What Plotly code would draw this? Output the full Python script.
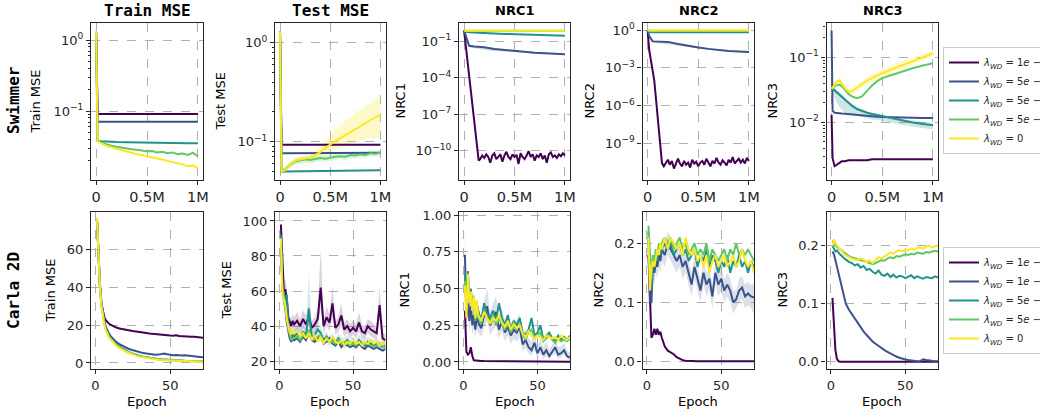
import plotly.graph_objects as go

W, H = 1040, 412
VIRIDIS = ["#440154", "#3b528b", "#21918c", "#5ec962", "#fde725"]
VIRIDIS_RGB = [(68, 1, 84), (59, 82, 139), (33, 145, 140), (94, 201, 98), (253, 231, 37)]
LAMBDA_SWIMMER = ["1e − 2", "5e − 3", "5e − 4", "5e − 5", "0"]
LAMBDA_CARLA = ["1e − 1", "1e − 2", "5e − 3", "5e − 4", "0"]
COL_TITLES = ["Train MSE", "Test MSE", "NRC1", "NRC2", "NRC3"]
ROW_TITLES = ["Swimmer", "Carla 2D"]

# ---------------- Swimmer (x in millions of steps) ----------------
XS = [0, 0.015, 0.05, 0.1, 0.2, 0.3, 0.4, 0.5, 0.6, 0.7, 0.8, 0.9, 1.0]
XR = [0, 0.015, 0.05, 0.1, 0.15, 0.2, 0.25, 0.3, 0.35, 0.4, 0.45, 0.5, 0.55, 0.6,
      0.65, 0.7, 0.75, 0.8, 0.85, 0.9, 0.95, 1.0]
XP = [0.16, 0.18, 0.20, 0.22, 0.24, 0.26, 0.28, 0.30, 0.32, 0.34, 0.36, 0.38, 0.40,
      0.42, 0.44, 0.46, 0.48, 0.50, 0.52, 0.54, 0.56, 0.58, 0.60, 0.62, 0.64, 0.66,
      0.68, 0.70, 0.72, 0.74, 0.76, 0.78, 0.80, 0.82, 0.84, 0.86, 0.88, 0.90, 0.92,
      0.94, 0.96, 0.98, 1.00]
X3 = [0, 0.01, 0.03, 0.05, 0.08, 0.1, 0.13, 0.17, 0.2, 0.25, 0.3, 0.35, 0.4, 0.45,
      0.5, 0.6, 0.7, 0.8, 0.9, 1.0]

# Train MSE
SW_TRAIN_1 = [1.3, 0.091, 0.091, 0.091, 0.091, 0.091, 0.091, 0.091, 0.091, 0.091, 0.091, 0.091, 0.091]
SW_TRAIN_2 = [1.3, 0.071, 0.071, 0.071, 0.071, 0.071, 0.071, 0.071, 0.071, 0.071, 0.071, 0.071, 0.071]
SW_TRAIN_3 = [1.3, 0.038, 0.0375, 0.037, 0.0366, 0.0363, 0.036, 0.0358, 0.0357, 0.0356, 0.0355, 0.0354, 0.0353]
SW_TRAIN_4 = [1.3, 0.038, 0.036, 0.034, 0.0325, 0.0315, 0.0305, 0.0298, 0.029, 0.0285, 0.0278,
              0.0272, 0.0275, 0.0262, 0.0268, 0.0255, 0.0262, 0.0248, 0.0252, 0.0242, 0.0258, 0.0233]
SW_TRAIN_5 = [1.35, 0.038, 0.035, 0.0325, 0.031, 0.0295, 0.028, 0.0268, 0.0257, 0.0247, 0.024,
              0.0232, 0.0225, 0.0215, 0.0208, 0.0198, 0.0192, 0.0183, 0.0178, 0.0168, 0.0172, 0.0155]

# Test MSE
SW_TEST_1 = [1.3, 0.0925, 0.0925, 0.0925, 0.0925, 0.0925, 0.0925, 0.0925, 0.0925, 0.0925, 0.0925, 0.0925, 0.0925]
SW_TEST_2 = [1.3, 0.076, 0.076, 0.076, 0.076, 0.076, 0.0765, 0.0765, 0.077, 0.077, 0.077, 0.077, 0.077]
SW_TEST_3 = [1.3, 0.0496, 0.0496, 0.0497, 0.0498, 0.05, 0.0502, 0.0503, 0.0505, 0.0506, 0.0508, 0.0509, 0.051]
SW_TEST_4 = [1.3, 0.05, 0.052, 0.058, 0.0627, 0.064, 0.066, 0.065, 0.067, 0.068, 0.067, 0.069,
             0.07, 0.071, 0.07, 0.073, 0.072, 0.074, 0.073, 0.076, 0.075, 0.077]
SW_TEST_5 = [1.3, 0.05, 0.051, 0.058, 0.064, 0.066, 0.067, 0.069, 0.073, 0.078, 0.086, 0.094,
             0.101, 0.108, 0.116, 0.124, 0.133, 0.143, 0.153, 0.164, 0.176, 0.187]
SW_TEST_5_LO = [1.2, 0.048, 0.049, 0.055, 0.06, 0.062, 0.062, 0.063, 0.066, 0.069, 0.074, 0.079,
                0.083, 0.087, 0.091, 0.095, 0.099, 0.103, 0.106, 0.108, 0.108, 0.108]
SW_TEST_5_HI = [1.4, 0.052, 0.054, 0.062, 0.069, 0.071, 0.073, 0.076, 0.082, 0.09, 0.101, 0.117,
                0.135, 0.142, 0.165, 0.17, 0.2, 0.205, 0.235, 0.24, 0.27, 0.29]
SW_TEST_4_LO = [1.2, 0.048, 0.049, 0.054, 0.058, 0.059, 0.061, 0.06, 0.062, 0.063, 0.062, 0.064,
                0.065, 0.066, 0.065, 0.068, 0.067, 0.069, 0.068, 0.071, 0.07, 0.072]
SW_TEST_4_HI = [1.4, 0.052, 0.055, 0.062, 0.067, 0.069, 0.071, 0.07, 0.072, 0.073, 0.072, 0.074,
                0.075, 0.076, 0.075, 0.078, 0.077, 0.079, 0.078, 0.081, 0.08, 0.082]

# NRC1
SW_NRC1_1 = [0.8, 0.03, 2e-4, 4e-8, 1.5e-11,
             2e-11, 4e-11, 2.5e-11, 5e-11, 3e-11, 1e-11, 4e-11, 6e-11, 2e-11, 3.5e-11,
             5e-11, 1.2e-11, 4e-11, 8e-11, 3e-11, 2e-11, 5e-11, 3e-11, 4.5e-11, 8e-12,
             6e-11, 3e-11, 2e-11, 4e-11, 9e-11, 3e-11, 5e-11, 1.5e-11, 4e-11, 3e-11,
             6e-11, 2e-11, 4e-11, 1e-11, 5e-11, 7e-11, 3e-11, 4e-11, 2.5e-11, 5e-11,
             3.5e-11, 6e-11, 4e-11]
SW_NRC1_1_X = [0, 0.02, 0.05, 0.1, 0.145] + XP
SW_NRC1_2 = [0.8, 0.3, 0.043, 0.038, 0.032, 0.023, 0.019, 0.017, 0.014, 0.0115, 0.0105, 0.0095, 0.0085]
SW_NRC1_2_LO = [0.7, 0.2, 0.032, 0.026, 0.019, 0.016, 0.0145, 0.0135, 0.012, 0.0102, 0.0095, 0.0088, 0.008]
SW_NRC1_2_HI = [0.9, 0.38, 0.05, 0.045, 0.038, 0.028, 0.022, 0.0195, 0.016, 0.0125, 0.0113, 0.0102, 0.0091]
SW_NRC1_3 = [0.8, 0.62, 0.56, 0.52, 0.47, 0.44, 0.41, 0.38, 0.36, 0.34, 0.32, 0.305, 0.29]
SW_NRC1_4 = [0.8, 0.73, 0.73, 0.73, 0.73, 0.73, 0.735, 0.735, 0.74, 0.74, 0.74, 0.74, 0.74]
SW_NRC1_5 = [0.8, 0.74, 0.74, 0.74, 0.74, 0.74, 0.745, 0.745, 0.75, 0.75, 0.75, 0.75, 0.75]

# NRC2
SW_NRC2_1 = [1.0, 0.026, 1e-4, 1.3e-7, 2.7e-11,
             1.5e-11, 3e-11, 5e-11, 2e-11, 4e-11, 1e-11, 3e-11, 6e-11, 2.5e-11, 1.5e-11,
             4e-11, 2e-11, 3e-11, 1.2e-11, 5e-11, 2.5e-11, 3.5e-11, 1.5e-11, 3e-11, 4e-11,
             2e-11, 6e-11, 3e-11, 1.5e-11, 4e-11, 2.5e-11, 7e-11, 3e-11, 2e-11, 4.5e-11,
             3e-11, 1.8e-11, 5e-11, 3e-11, 8e-11, 2.5e-11, 4e-11, 6e-11, 3e-11, 5e-11,
             2.5e-11, 7e-11, 4e-11]
SW_NRC2_1_X = [0, 0.016, 0.066, 0.1, 0.142] + XP
SW_NRC2_2 = [1.0, 0.35, 0.126, 0.124, 0.115, 0.078, 0.055, 0.041, 0.032, 0.026, 0.022, 0.02, 0.018]
SW_NRC2_2_LO = [0.9, 0.25, 0.1, 0.09, 0.08, 0.06, 0.045, 0.035, 0.028, 0.023, 0.02, 0.018, 0.016]
SW_NRC2_2_HI = [1.1, 0.45, 0.15, 0.14, 0.13, 0.09, 0.064, 0.047, 0.036, 0.029, 0.024, 0.022, 0.02]
SW_NRC2_3 = [1.0, 0.7, 0.68, 0.67, 0.66, 0.66, 0.66, 0.66, 0.66, 0.66, 0.66, 0.66, 0.66]
SW_NRC2_4 = [1.0, 0.9, 0.9, 0.9, 0.9, 0.9, 0.9, 0.9, 0.9, 0.9, 0.9, 0.9, 0.9]
SW_NRC2_5 = [1.0, 0.92, 0.92, 0.92, 0.92, 0.92, 0.92, 0.92, 0.92, 0.92, 0.92, 0.92, 0.92]

# NRC3
SW_NRC3_1 = [0.013, 0.0028, 0.0021, 0.0022, 0.0024, 0.0025, 0.0025, 0.0026, 0.0026, 0.0026,
             0.0026, 0.0026, 0.0027, 0.0027, 0.0027, 0.0027, 0.0027, 0.0027, 0.0027, 0.0027]
SW_NRC3_2 = [0.26, 0.015, 0.014, 0.0138, 0.0137, 0.0136, 0.0135, 0.0133, 0.0132, 0.013,
             0.0128, 0.0126, 0.0124, 0.0122, 0.0121, 0.0119, 0.0118, 0.0117, 0.0116, 0.0116]
SW_NRC3_3 = [0.033, 0.033, 0.031, 0.029, 0.026, 0.0245, 0.022, 0.0195, 0.018, 0.016,
             0.0148, 0.014, 0.0134, 0.0129, 0.0124, 0.0115, 0.0106, 0.0099, 0.0094, 0.009]
SW_NRC3_3_LO = [0.03, 0.028, 0.024, 0.02, 0.017, 0.0155, 0.014, 0.0135, 0.013, 0.0125,
                0.012, 0.0115, 0.011, 0.0108, 0.0105, 0.0098, 0.0091, 0.0085, 0.0081, 0.0078]
SW_NRC3_3_HI = [0.036, 0.036, 0.034, 0.032, 0.029, 0.027, 0.024, 0.021, 0.0195, 0.0172,
                0.0158, 0.0148, 0.0141, 0.0135, 0.013, 0.012, 0.0112, 0.0106, 0.0101, 0.0097]
SW_NRC3_4 = [0.033, 0.034, 0.036, 0.037, 0.038, 0.036, 0.032, 0.027, 0.025, 0.0235,
             0.025, 0.031, 0.037, 0.043, 0.048, 0.054, 0.061, 0.068, 0.075, 0.081]
SW_NRC3_5 = [0.033, 0.034, 0.038, 0.042, 0.044, 0.04, 0.034, 0.0295, 0.03, 0.034,
             0.039, 0.044, 0.048, 0.053, 0.057, 0.066, 0.076, 0.088, 0.101, 0.115]
SW_NRC3_5_LO = [0.031, 0.032, 0.035, 0.038, 0.04, 0.036, 0.031, 0.027, 0.027, 0.03,
                0.034, 0.038, 0.042, 0.046, 0.05, 0.058, 0.067, 0.078, 0.09, 0.104]
SW_NRC3_5_HI = [0.035, 0.036, 0.041, 0.046, 0.048, 0.044, 0.037, 0.032, 0.033, 0.038,
                0.044, 0.05, 0.055, 0.061, 0.066, 0.077, 0.088, 0.1, 0.113, 0.126]

# ---------------- Carla 2D (x in epochs) ----------------
EPOCHS = [1, 2, 3, 4, 5, 6, 7, 8, 9, 10,
          12, 14, 16, 18, 20, 22, 24, 26, 28, 30,
          32, 34, 36, 38, 40, 42, 44, 46, 48, 50,
          52, 54, 56, 58, 60, 62, 64, 66, 68, 70,
          72]

CA_TRAIN_1 = [76, 56, 40, 31, 26.5, 24, 22.5, 21.5, 20.8, 20.2,
              19.3, 18.7, 18.2, 17.8, 17.5, 17.2, 17.0, 16.7, 16.4, 16.2,
              16.0, 15.8, 15.6, 15.4, 15.2, 15.0, 14.9, 14.8, 14.6, 14.5,
              14.4, 14.6, 14.3, 14.1, 14.0, 13.9, 13.8, 13.8, 13.6, 13.4,
              13.3]
CA_TRAIN_2 = [76, 58, 42, 32, 26, 22, 19, 17, 15.5, 14.3,
              12.4, 11, 9.9, 9, 8.1, 7.5, 7, 6.5, 6.0, 5.5,
              5.2, 5.0, 4.7, 4.5, 4.3, 4.4, 4.8, 5.0, 4.6, 4.3,
              4.1, 4.2, 4.0, 3.9, 4.1, 4.0, 3.7, 3.5, 3.4, 3.2,
              3.0]
CA_TRAIN_3 = [76, 57, 41, 31, 25, 21, 18, 16, 14.5, 13.3,
              11.3, 9.8, 8.6, 7.6, 6.6, 5.9, 5.2, 4.6, 4.1, 3.7,
              3.3, 3.0, 2.7, 2.5, 2.3, 2.1, 1.95, 1.8, 1.7, 1.6,
              1.5, 1.4, 1.35, 1.3, 1.2, 1.15, 1.1, 1.05, 1.0, 0.95,
              0.9]
CA_TRAIN_4 = [76, 56, 40, 30.5, 24.5, 20.5, 17.5, 15.5, 14, 12.9,
              11, 9.5, 8.3, 7.3, 6.4, 5.7, 5.0, 4.4, 3.9, 3.5,
              3.1, 2.8, 2.5, 2.3, 2.1, 1.9, 1.75, 1.6, 1.5, 1.4,
              1.3, 1.2, 1.15, 1.1, 1.0, 0.95, 0.9, 0.85, 0.8, 0.75,
              0.7]
CA_TRAIN_5 = [77, 56, 39.5, 30, 24, 20, 17, 15, 13.6, 12.5,
              10.6, 9.1, 7.9, 6.9, 6.1, 5.4, 4.7, 4.1, 3.6, 3.2,
              2.9, 2.6, 2.3, 2.1, 1.9, 1.75, 1.6, 1.5, 1.4, 1.3,
              1.2, 1.1, 1.05, 1.0, 0.95, 0.9, 0.85, 0.8, 0.75, 0.7,
              0.65]

CA_TEST_1 = [98, 78, 60, 61, 55, 45, 42, 40, 43, 41,
             43, 40, 44, 41, 45, 39, 41, 44, 62, 40,
             45, 42, 53, 39, 41, 46, 38, 40, 37, 39,
             37, 42, 37, 36, 40, 38, 37, 36, 52, 33,
             32]
CA_TEST_1_LO = [95, 72, 55, 55, 50, 41, 38, 36, 39, 37,
                38, 36, 39, 37, 40, 35, 37, 39, 50, 36,
                40, 37, 45, 35, 37, 40, 34, 36, 33, 35,
                33, 37, 33, 32, 36, 34, 33, 32, 44, 30,
                29]
CA_TEST_1_HI = [101, 84, 66, 67, 60, 50, 46, 44, 47, 45,
                48, 44, 49, 46, 52, 43, 45, 50, 84, 44,
                51, 47, 63, 43, 45, 53, 42, 44, 41, 43,
                41, 48, 41, 40, 44, 43, 41, 40, 62, 36,
                35]
CA_TEST_3_LO = [88, 55, 53, 50, 52, 38, 33, 30, 32, 31,
                32, 30, 33, 31, 40, 30, 32, 34, 32, 29,
                31, 28, 30, 27, 30, 28, 27, 29, 27, 28,
                26, 29, 27, 26, 28, 27, 26, 27, 26, 25,
                26]
CA_TEST_3_HI = [96, 66, 63, 60, 64, 46, 39, 36, 38, 37,
                40, 36, 41, 37, 72, 36, 38, 42, 40, 35,
                37, 34, 36, 33, 36, 34, 33, 35, 33, 34,
                32, 35, 33, 32, 34, 33, 32, 33, 32, 31,
                32]
CA_TEST_2 = [88, 62, 55, 50, 42, 36, 33, 31, 33, 32,
             33, 31, 34, 32, 36, 32, 31, 33, 34, 30,
             31, 33, 30, 29, 31, 28, 30, 29, 28, 29,
             28, 30, 28, 27, 29, 28, 27, 28, 27, 26,
             27]
CA_TEST_3 = [92, 60, 58, 55, 58, 42, 36, 33, 35, 34,
             36, 33, 37, 34, 50, 33, 35, 38, 36, 32,
             34, 31, 33, 30, 33, 31, 30, 32, 30, 31,
             29, 32, 30, 29, 31, 30, 29, 30, 29, 28,
             29]
CA_TEST_4 = [90, 63, 56, 51, 45, 38, 34, 32, 33, 33,
             34, 32, 35, 33, 38, 32, 33, 34, 35, 31,
             32, 32, 31, 30, 32, 30, 31, 30, 29, 30,
             29, 31, 29, 30, 30, 29, 28, 29, 30, 28,
             28]
CA_TEST_5 = [90, 58, 55, 52, 44, 40, 37, 35, 38, 36,
             37, 34, 36, 33, 36, 32, 35, 31, 34, 30,
             33, 31, 34, 31, 30, 32, 29, 31, 30, 32,
             30, 31, 29, 31, 30, 32, 30, 31, 29, 31,
             30]

CA_NRC1_1 = [0.35, 0.07, 0.05, 0.06, 0.1, 0.04, 0.012, 0.01, 0.009, 0.008,
             0.007, 0.006, 0.006, 0.005, 0.005, 0.004, 0.004, 0.004, 0.003, 0.003,
             0.003, 0.003, 0.003, 0.003, 0.003, 0.002, 0.002, 0.002, 0.002, 0.002,
             0.002, 0.002, 0.002, 0.002, 0.002, 0.002, 0.002, 0.002, 0.002, 0.002,
             0.002]
CA_NRC1_2 = [0.73, 0.30, 0.45, 0.28, 0.38, 0.25, 0.32, 0.22, 0.30, 0.27,
             0.23, 0.32, 0.38, 0.25, 0.30, 0.34, 0.22, 0.28, 0.20, 0.24,
             0.18, 0.22, 0.20, 0.24, 0.12, 0.15, 0.10, 0.08, 0.13, 0.06,
             0.10, 0.05, 0.08, 0.04, 0.07, 0.10, 0.05, 0.06, 0.08, 0.04,
             0.03]
CA_NRC1_2_LO = [0.55, 0.22, 0.33, 0.20, 0.28, 0.18, 0.24, 0.16, 0.22, 0.20,
                0.17, 0.24, 0.28, 0.18, 0.22, 0.25, 0.16, 0.21, 0.14, 0.18,
                0.12, 0.16, 0.14, 0.17, 0.07, 0.10, 0.06, 0.04, 0.08, 0.03,
                0.06, 0.02, 0.04, 0.02, 0.04, 0.06, 0.02, 0.03, 0.05, 0.02,
                0.01]
CA_NRC1_2_HI = [0.96, 0.40, 0.58, 0.38, 0.50, 0.34, 0.42, 0.30, 0.40, 0.36,
                0.31, 0.42, 0.50, 0.34, 0.40, 0.45, 0.30, 0.37, 0.28, 0.32,
                0.26, 0.30, 0.28, 0.33, 0.19, 0.22, 0.16, 0.14, 0.20, 0.11,
                0.16, 0.10, 0.14, 0.08, 0.12, 0.16, 0.10, 0.11, 0.13, 0.08,
                0.06]
CA_NRC1_3 = [0.60, 0.40, 0.62, 0.45, 0.50, 0.38, 0.45, 0.30, 0.40, 0.35,
             0.28, 0.40, 0.32, 0.30, 0.35, 0.28, 0.40, 0.30, 0.25, 0.32,
             0.22, 0.28, 0.25, 0.30, 0.20, 0.18, 0.22, 0.30, 0.18, 0.20,
             0.25, 0.15, 0.18, 0.20, 0.16, 0.14, 0.18, 0.15, 0.17, 0.15,
             0.18]
CA_NRC1_4 = [0.55, 0.35, 0.58, 0.40, 0.45, 0.35, 0.40, 0.28, 0.35, 0.30,
             0.26, 0.35, 0.30, 0.27, 0.32, 0.25, 0.30, 0.26, 0.22, 0.28,
             0.20, 0.25, 0.22, 0.26, 0.18, 0.16, 0.20, 0.22, 0.17, 0.18,
             0.20, 0.14, 0.16, 0.18, 0.15, 0.13, 0.16, 0.14, 0.15, 0.14,
             0.16]
CA_NRC1_5 = [0.52, 0.30, 0.60, 0.40, 0.48, 0.35, 0.45, 0.30, 0.42, 0.32,
             0.28, 0.34, 0.30, 0.26, 0.30, 0.28, 0.32, 0.27, 0.24, 0.28,
             0.22, 0.26, 0.23, 0.25, 0.19, 0.17, 0.21, 0.18, 0.16, 0.18,
             0.17, 0.15, 0.18, 0.17, 0.16, 0.17, 0.15, 0.18, 0.16, 0.15,
             0.17]

CA_NRC2_1 = [0.18, 0.10, 0.04, 0.045, 0.055, 0.045, 0.055, 0.045, 0.05, 0.04,
             0.025, 0.018, 0.015, 0.012, 0.007, 0.004, 0.002, 0.001, 0.0005, 0.0003,
             0.0002, 0.0001, 0, 0, 0, 0, 0, 0, 0, 0,
             0, 0, 0, 0, 0, 0, 0, 0, 0, 0,
             0]
CA_NRC2_2 = [0.21, 0.10, 0.10, 0.16, 0.15, 0.17, 0.16, 0.18, 0.17, 0.19,
             0.18, 0.20, 0.19, 0.18, 0.17, 0.18, 0.16, 0.17, 0.15, 0.13,
             0.16, 0.14, 0.12, 0.15, 0.13, 0.14, 0.11, 0.15, 0.13, 0.14,
             0.12, 0.13, 0.12, 0.10, 0.105, 0.12, 0.125, 0.11, 0.115, 0.11,
             0.108]
CA_NRC2_2_LO = [0.19, 0.09, 0.09, 0.14, 0.13, 0.15, 0.14, 0.16, 0.15, 0.17,
                0.16, 0.18, 0.17, 0.16, 0.15, 0.16, 0.14, 0.15, 0.13, 0.11,
                0.14, 0.12, 0.10, 0.13, 0.11, 0.12, 0.09, 0.13, 0.11, 0.12,
                0.10, 0.11, 0.10, 0.08, 0.09, 0.10, 0.105, 0.09, 0.095, 0.09,
                0.08]
CA_NRC2_2_HI = [0.23, 0.12, 0.12, 0.18, 0.17, 0.19, 0.18, 0.20, 0.19, 0.21,
                0.20, 0.22, 0.21, 0.20, 0.19, 0.20, 0.18, 0.19, 0.17, 0.15,
                0.18, 0.16, 0.14, 0.17, 0.15, 0.16, 0.13, 0.17, 0.15, 0.16,
                0.14, 0.15, 0.14, 0.12, 0.12, 0.14, 0.145, 0.13, 0.135, 0.13,
                0.13]
CA_NRC2_3 = [0.22, 0.15, 0.12, 0.17, 0.16, 0.18, 0.17, 0.19, 0.18, 0.19,
             0.20, 0.19, 0.20, 0.18, 0.19, 0.20, 0.18, 0.19, 0.17, 0.18,
             0.19, 0.16, 0.18, 0.17, 0.19, 0.16, 0.18, 0.17, 0.15, 0.17,
             0.16, 0.18, 0.15, 0.17, 0.16, 0.18, 0.16, 0.17, 0.15, 0.17,
             0.16]
CA_NRC2_4 = [0.23, 0.17, 0.14, 0.18, 0.17, 0.19, 0.18, 0.20, 0.19, 0.20,
             0.21, 0.20, 0.21, 0.19, 0.20, 0.21, 0.19, 0.20, 0.18, 0.19,
             0.20, 0.18, 0.19, 0.18, 0.20, 0.17, 0.19, 0.18, 0.17, 0.18,
             0.19, 0.17, 0.19, 0.18, 0.20, 0.18, 0.19, 0.18, 0.19, 0.18,
             0.17]
CA_NRC2_5 = [0.21, 0.12, 0.16, 0.17, 0.16, 0.18, 0.19, 0.18, 0.20, 0.19,
             0.21, 0.19, 0.21, 0.20, 0.19, 0.20, 0.18, 0.21, 0.19, 0.18,
             0.19, 0.17, 0.18, 0.16, 0.18, 0.15, 0.17, 0.18, 0.16, 0.17,
             0.18, 0.16, 0.17, 0.18, 0.16, 0.17, 0.19, 0.17, 0.16, 0.17,
             0.15]

CA_NRC3_1 = [0.11, 0.05, 0.02, 0.005, 0.001, 0, 0, 0, 0, 0,
             0, 0, 0, 0, 0, 0, 0, 0, 0, 0,
             0, 0, 0, 0, 0, 0, 0, 0, 0, 0,
             0, 0, 0, 0, 0, 0, 0, 0, 0, 0,
             0]
CA_NRC3_2 = [0.19, 0.185, 0.175, 0.165, 0.155, 0.14, 0.13, 0.12, 0.11, 0.10,
             0.09, 0.082, 0.075, 0.066, 0.058, 0.052, 0.046, 0.04, 0.035, 0.031,
             0.027, 0.023, 0.02, 0.017, 0.014, 0.011, 0.009, 0.007, 0.005, 0.004,
             0.003, 0.002, 0.001, 0.001, 0.001, 0.004, 0.003, 0.002, 0.002, 0.001,
             0.001]
CA_NRC3_3 = [0.20, 0.195, 0.19, 0.192, 0.188, 0.185, 0.183, 0.18, 0.178, 0.176,
             0.172, 0.17, 0.166, 0.168, 0.162, 0.165, 0.158, 0.16, 0.155, 0.152,
             0.157, 0.15, 0.148, 0.152, 0.146, 0.15, 0.145, 0.148, 0.147, 0.144,
             0.146, 0.149, 0.144, 0.147, 0.145, 0.143, 0.146, 0.145, 0.144, 0.147,
             0.145]
CA_NRC3_4 = [0.205, 0.21, 0.2, 0.198, 0.196, 0.194, 0.192, 0.19, 0.188, 0.186,
             0.182, 0.18, 0.178, 0.176, 0.175, 0.174, 0.172, 0.17, 0.168, 0.17,
             0.172, 0.175, 0.174, 0.178, 0.18, 0.178, 0.182, 0.181, 0.183, 0.185,
             0.184, 0.186, 0.185, 0.188, 0.187, 0.186, 0.189, 0.188, 0.19, 0.191,
             0.19]
CA_NRC3_5 = [0.20, 0.21, 0.205, 0.2, 0.198, 0.195, 0.19, 0.187, 0.185, 0.183,
             0.18, 0.178, 0.176, 0.175, 0.178, 0.176, 0.172, 0.175, 0.17, 0.175,
             0.18, 0.178, 0.182, 0.185, 0.188, 0.186, 0.19, 0.192, 0.19, 0.193,
             0.192, 0.195, 0.193, 0.196, 0.197, 0.195, 0.198, 0.2, 0.197, 0.199,
             0.2]

# ---------------- figure ----------------
COL_X = [(91, 203), (275, 385.5), (459, 570), (642.5, 754), (826.5, 938)]
ROW_Y = [(23, 180), (212, 369)]
INK = "#262626"

fig = go.Figure()


def ax_id(row, col):
    k = row * 5 + col + 1
    return ("x" if k == 1 else f"x{k}"), ("y" if k == 1 else f"y{k}")


def rgba(i, a):
    r, g, b = VIRIDIS_RGB[i]
    return f"rgba({r},{g},{b},{a})"


def line(row, col, x, y, i, legend_names=None, legend="legend"):
    xa, ya = ax_id(row, col)
    show = legend_names is not None
    name = ""
    if show:
        v = legend_names[i].replace("e", "<i>e</i>")
        name = f"<i>λ<sub>WD</sub></i> = {v}"
    fig.add_trace(go.Scatter(x=x, y=y, mode="lines", xaxis=xa, yaxis=ya,
                             line=dict(color=VIRIDIS[i], width=2),
                             name=name, showlegend=show, legend=legend,
                             hoverinfo="skip"))


def band(row, col, x, lo, hi, i, a=0.2):
    xa, ya = ax_id(row, col)
    fig.add_trace(go.Scatter(x=x, y=lo, mode="lines", xaxis=xa, yaxis=ya,
                             line=dict(width=0, color=rgba(i, 0)), showlegend=False,
                             hoverinfo="skip"))
    fig.add_trace(go.Scatter(x=x, y=hi, mode="lines", xaxis=xa, yaxis=ya,
                             line=dict(width=0, color=rgba(i, 0)), fill="tonexty",
                             fillcolor=rgba(i, a), showlegend=False, hoverinfo="skip"))


# Swimmer row
for i, y in enumerate([SW_TRAIN_1, SW_TRAIN_2, SW_TRAIN_3]):
    line(0, 0, XS, y, i, LAMBDA_SWIMMER, "legend")
line(0, 0, XR, SW_TRAIN_4, 3, LAMBDA_SWIMMER, "legend")
line(0, 0, XR, SW_TRAIN_5, 4, LAMBDA_SWIMMER, "legend")

band(0, 1, XR, SW_TEST_5_LO, SW_TEST_5_HI, 4, 0.25)
band(0, 1, XR, SW_TEST_4_LO, SW_TEST_4_HI, 3, 0.2)
for i, y in enumerate([SW_TEST_1, SW_TEST_2, SW_TEST_3]):
    line(0, 1, XS, y, i)
line(0, 1, XR, SW_TEST_4, 3)
line(0, 1, XR, SW_TEST_5, 4)

band(0, 2, XS, SW_NRC1_2_LO, SW_NRC1_2_HI, 1, 0.2)
line(0, 2, SW_NRC1_1_X, SW_NRC1_1, 0)
for i, y in [(1, SW_NRC1_2), (2, SW_NRC1_3), (3, SW_NRC1_4), (4, SW_NRC1_5)]:
    line(0, 2, XS, y, i)

band(0, 3, XS, SW_NRC2_2_LO, SW_NRC2_2_HI, 1, 0.2)
line(0, 3, SW_NRC2_1_X, SW_NRC2_1, 0)
for i, y in [(1, SW_NRC2_2), (2, SW_NRC2_3), (3, SW_NRC2_4), (4, SW_NRC2_5)]:
    line(0, 3, XS, y, i)

band(0, 4, X3, SW_NRC3_3_LO, SW_NRC3_3_HI, 2, 0.22)
band(0, 4, X3, SW_NRC3_5_LO, SW_NRC3_5_HI, 4, 0.25)
for i, y in enumerate([SW_NRC3_1, SW_NRC3_2, SW_NRC3_3, SW_NRC3_4, SW_NRC3_5]):
    line(0, 4, X3, y, i)

# Carla row
for i, y in enumerate([CA_TRAIN_1, CA_TRAIN_2, CA_TRAIN_3, CA_TRAIN_4, CA_TRAIN_5]):
    line(1, 0, EPOCHS, y, i, LAMBDA_CARLA, "legend2")
band(1, 1, EPOCHS, CA_TEST_1_LO, CA_TEST_1_HI, 0, 0.18)
band(1, 1, EPOCHS, CA_TEST_3_LO, CA_TEST_3_HI, 2, 0.18)
band(1, 2, EPOCHS, CA_NRC1_2_LO, CA_NRC1_2_HI, 1, 0.18)
band(1, 3, EPOCHS, CA_NRC2_2_LO, CA_NRC2_2_HI, 1, 0.18)
for col, series in [(1, [CA_TEST_1, CA_TEST_2, CA_TEST_3, CA_TEST_4, CA_TEST_5]),
                    (2, [CA_NRC1_1, CA_NRC1_2, CA_NRC1_3, CA_NRC1_4, CA_NRC1_5]),
                    (3, [CA_NRC2_1, CA_NRC2_2, CA_NRC2_3, CA_NRC2_4, CA_NRC2_5]),
                    (4, [CA_NRC3_1, CA_NRC3_2, CA_NRC3_3, CA_NRC3_4, CA_NRC3_5])]:
    for i, y in enumerate(series):
        line(1, col, EPOCHS, y, i)

# ---------------- axes ----------------
def base_axis():
    return dict(showline=True, mirror=True, linecolor=INK, linewidth=1.1,
                ticks="outside", ticklen=4, tickwidth=1, tickcolor=INK,
                showgrid=True, gridcolor="#b0b0b0", griddash="dash", gridwidth=0.8,
                zeroline=False, tickfont=dict(family="DejaVu Sans", size=13, color=INK))


def sup(e):
    return f"10<sup>{str(e).replace('-', '−')}</sup>"


MINOR_A = [0.02, 0.03, 0.04, 0.05, 0.06, 0.07, 0.08, 0.09, 0.2, 0.3, 0.4, 0.5, 0.6, 0.7, 0.8, 0.9]
MINOR_B = [0.002, 0.003, 0.004, 0.005, 0.006, 0.007, 0.008, 0.009,
           0.02, 0.03, 0.04, 0.05, 0.06, 0.07, 0.08, 0.09, 0.2, 0.3]

Y_CFG = {
    (0, 0): dict(type="log", range=[-1.97, 0.24], tickvals=[0.1, 1], ticktext=[sup(-1), sup(0)], minor=MINOR_A),
    (0, 1): dict(type="log", range=[-1.39, 0.2], tickvals=[0.1, 1], ticktext=[sup(-1), sup(0)], minor=MINOR_A),
    (0, 2): dict(type="log", range=[-12.42, 0.51], tickvals=[1e-10, 1e-7, 1e-4, 1e-1],
                 ticktext=[sup(-10), sup(-7), sup(-4), sup(-1)]),
    (0, 3): dict(type="log", range=[-11.91, 0.56], tickvals=[1e-9, 1e-6, 1e-3, 1],
                 ticktext=[sup(-9), sup(-6), sup(-3), sup(0)]),
    (0, 4): dict(type="log", range=[-2.89, -0.47], tickvals=[0.01, 0.1], ticktext=[sup(-2), sup(-1)], minor=MINOR_B),
    (1, 0): dict(range=[-3.2, 79.8], tickvals=[0, 20, 40, 60], ticktext=["0", "20", "40", "60"]),
    (1, 1): dict(range=[15.5, 105.1], tickvals=[20, 40, 60, 80, 100], ticktext=["20", "40", "60", "80", "100"]),
    (1, 2): dict(range=[-0.048, 1.022], tickvals=[0, 0.25, 0.5, 0.75, 1.0],
                 ticktext=["0.00", "0.25", "0.50", "0.75", "1.00"]),
    (1, 3): dict(range=[-0.013, 0.253], tickvals=[0, 0.1, 0.2], ticktext=["0.0", "0.1", "0.2"]),
    (1, 4): dict(range=[-0.0125, 0.258], tickvals=[0, 0.1, 0.2], ticktext=["0.0", "0.1", "0.2"]),
}

layout_axes = {}
for r in range(2):
    for c in range(5):
        k = r * 5 + c + 1
        xa, ya = ax_id(r, c)
        xl, xr = COL_X[c]
        yt, yb = ROW_Y[r]
        xax = base_axis()
        xax.update(domain=[xl / W, xr / W], anchor=ya)
        if r == 0:
            xax.update(range=[-0.05, 1.05], tickvals=[0, 0.5, 1], ticktext=["0", "0.5M", "1M"],
                       tickfont=dict(family="DejaVu Sans", size=14.5, color=INK))
        else:
            xax.update(range=[-3, 72], tickvals=[0, 50], ticktext=["0", "50"])
        yax = base_axis()
        cfg = dict(Y_CFG[(r, c)])
        minor = cfg.pop("minor", None)
        yax.update(cfg)
        yax.update(domain=[1 - yb / H, 1 - yt / H], anchor=xa)
        if minor is not None:
            yax["minor"] = dict(tickvals=minor, ticks="outside", ticklen=2, tickcolor=INK, showgrid=False)
        layout_axes["xaxis" if k == 1 else f"xaxis{k}"] = xax
        layout_axes["yaxis" if k == 1 else f"yaxis{k}"] = yax

# ---------------- annotations ----------------
ann = []


def text(x, y, s, size, family="DejaVu Sans", angle=0):
    ann.append(dict(x=x / W, y=1 - y / H, xref="paper", yref="paper", text=s, showarrow=False,
                    xanchor="center", yanchor="middle", textangle=angle,
                    font=dict(family=family, size=size, color="black")))


COL_CENTERS = [(a + b) / 2 for a, b in COL_X]
for c, t in enumerate(COL_TITLES):
    if c < 2:
        text(COL_CENTERS[c], 11, f"<b>{t}</b>", 16, "DejaVu Sans Mono")
    else:
        text(COL_CENTERS[c], 11, f"<b>{t}</b>", 13)
text(13, 101, f"<b>{ROW_TITLES[0]}</b>", 16, "DejaVu Sans Mono", -90)
text(13, 291, f"<b>{ROW_TITLES[1]}</b>", 16, "DejaVu Sans Mono", -90)

YLAB_X = [[35, 220, 400, 589, 772], [50, 226, 404, 598, 782]]
for r in range(2):
    yc = sum(ROW_Y[r]) / 2
    for c in range(5):
        text(YLAB_X[r][c], yc, COL_TITLES[c], 13, angle=-90)
for c in range(5):
    text(COL_CENTERS[c], 401, "Epoch", 13)

leg_common = dict(xanchor="left", yanchor="top", bordercolor="#cccccc", borderwidth=1,
                  bgcolor="white", font=dict(family="DejaVu Sans", size=10, color=INK),
                  itemwidth=30, tracegroupgap=0, traceorder="normal")

fig.update_layout(
    width=W, height=H, autosize=False,
    margin=dict(l=0, r=0, t=0, b=0, pad=0, autoexpand=False),
    paper_bgcolor="white", plot_bgcolor="white",
    annotations=ann,
    legend=dict(x=943 / W, y=1 - 47 / H, **leg_common),
    legend2=dict(x=943 / W, y=1 - 247 / H, **leg_common),
    **layout_axes,
)

fig.write_html(
    "out.html",
    config={"displayModeBar": False},
    post_script="document.body.style.margin='0';document.body.style.overflow='hidden';",
)
